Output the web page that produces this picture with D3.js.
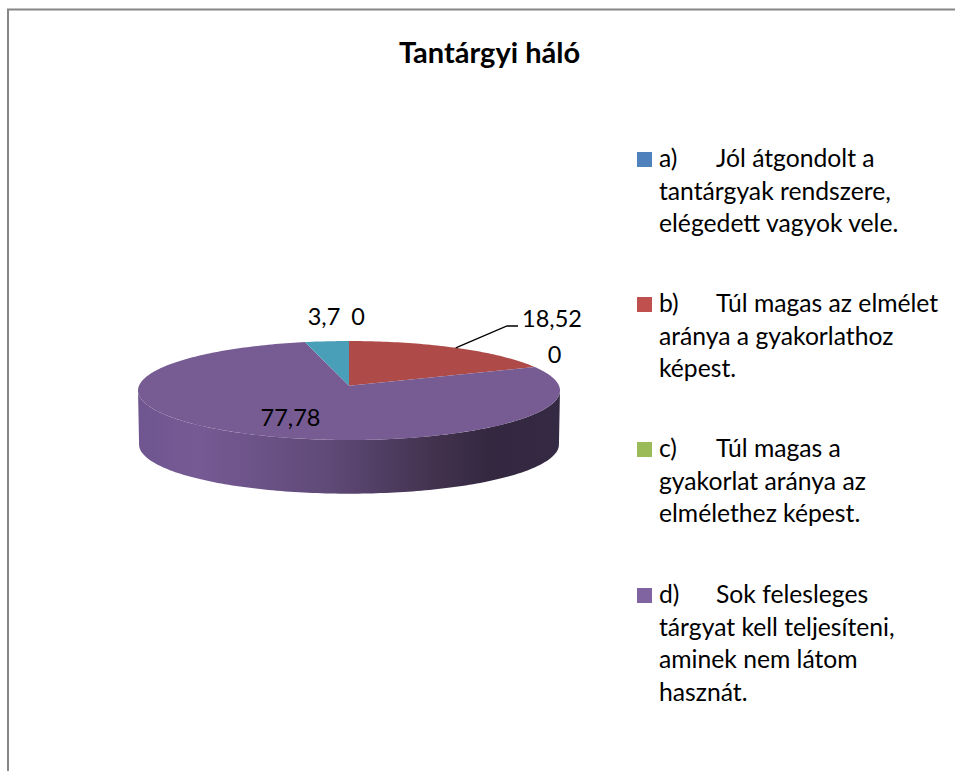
<!DOCTYPE html>
<html>
<head>
<meta charset="utf-8">
<script src="https://cdn.jsdelivr.net/npm/d3@7"></script>
<style>
html,body{margin:0;padding:0;background:#fff;overflow:hidden}
svg{display:block}
text{font-family:Lato,"Open Sans",sans-serif;fill:#000}
</style>
</head>
<body>
<svg width="955" height="771"></svg>
<script>
var title = "Tantárgyi háló";
var sliceNames = ["a", "b", "c", "d", "e"];
var values = [0, 18.52, 0, 77.78, 3.7];
var valueLabels = ["0", "18,52", "0", "77,78", "3,7"];
var sliceColors = ["#4a7ebb", "#ae4a47", "#8fae4f", "#775b93", "#4a9fb8"];
var legendColors = ["#4f81bd", "#c0504d", "#9bbb59", "#8064a2"];
var legendLines = [
  [["a)", "Jól átgondolt a"], "tantárgyak rendszere,", "elégedett vagyok vele."],
  [["b)", "Túl magas az elmélet"], "aránya a gyakorlathoz", "képest."],
  [["c)", "Túl magas a"], "gyakorlat aránya az", "elmélethez képest."],
  [["d)", "Sok felesleges"], "tárgyat kell teljesíteni,", "aminek nem látom", "hasznát."]
];

var svg = d3.select("svg");

// frame, only top and left edges are in the crop
svg.append("path")
  .attr("d", "M8,771V9.5H955")
  .attr("fill", "none")
  .attr("stroke", "#868686")
  .attr("stroke-width", 2);

svg.append("text")
  .attr("x", 489.5).attr("y", 63)
  .attr("text-anchor", "middle")
  .style("font-size", "29px").style("font-weight", "bold")
  .text(title);

// perspective view of the disc
var cx = 349, cy = 385.7, R = 210, tilt = 49.03, persp = 0.097, depth = 54;
function project(a, r, drop) {
  var s = 1 / (1 + persp * r * Math.cos(a));
  return [cx + R * r * Math.sin(a) * s, cy + drop - tilt * r * Math.cos(a) * s];
}
function rim(a0, a1, r, drop) {
  var n = Math.max(1, Math.ceil(Math.abs(a1 - a0) / 0.02));
  return d3.range(n + 1).map(function(i) {
    return project(a0 + (a1 - a0) * i / n, r, drop);
  });
}

var line = d3.line();
var pie = d3.pie().sort(null).value(function(d) { return d; });
var arcs = pie(values);

var defs = svg.append("defs");
var grad = defs.append("linearGradient").attr("id", "side")
  .attr("gradientUnits", "userSpaceOnUse")
  .attr("x1", 138).attr("x2", 559).attr("y1", 0).attr("y2", 0);
[[0, "#6f5690"], [0.14, "#765a94"], [0.45, "#5f4a78"], [0.7, "#43324f"], [0.84, "#332840"], [1, "#352a43"]]
  .forEach(function(s) {
    grad.append("stop").attr("offset", s[0]).attr("stop-color", s[1]);
  });

// side wall under the front half of the rim
var sideA0 = Math.PI - Math.asin(Math.sqrt(1 - persp * persp));
var sideA1 = 2 * Math.PI - sideA0;
var topEdge = rim(sideA0, sideA1, 1, 0);
var bottomEdge = rim(sideA1, sideA0, 0.995, depth);
svg.append("path")
  .attr("d", line(topEdge.concat(bottomEdge)) + "Z")
  .attr("fill", "url(#side)");

// top face
svg.selectAll("path.slice")
  .data(arcs.filter(function(d) { return d.value > 0; }))
  .enter().append("path")
  .attr("class", "slice")
  .attr("d", function(d) {
    return line([project(0, 0, 0)].concat(rim(d.startAngle, d.endAngle, 1, 0))) + "Z";
  })
  .attr("fill", function(d) { return sliceColors[d.index]; });

// leader line of the red slice
var red = arcs[1];
var lead = project((red.startAngle + red.endAngle) / 2, 1, 0);
svg.append("path")
  .attr("d", line([lead, [507, 326], [518, 326]]))
  .attr("fill", "none").attr("stroke", "#000").attr("stroke-width", 1.3);

// value labels
var labelX = [358, 552, 554.5, 290.5, 324];
var labelY = [325, 327, 363, 426, 325];
svg.selectAll("text.val")
  .data(valueLabels)
  .enter().append("text")
  .attr("class", "val")
  .attr("x", function(d, i) { return labelX[i]; })
  .attr("y", function(d, i) { return labelY[i]; })
  .attr("text-anchor", "middle")
  .style("font-size", "23.5px")
  .text(function(d) { return d; });

// legend
var legendBase = [167, 312, 457, 603];
var lineStep = 32.5;
var fontSize = "24.7px";
var item = svg.selectAll("g.item")
  .data(legendLines)
  .enter().append("g")
  .attr("class", "item");
item.append("rect")
  .attr("x", 637)
  .attr("y", function(d, i) { return legendBase[i] - 15; })
  .attr("width", 15).attr("height", 15)
  .attr("fill", function(d, i) { return legendColors[i]; });
item.each(function(lines, i) {
  var g = d3.select(this);
  lines.forEach(function(l, j) {
    var y = legendBase[i] + j * lineStep;
    if (Array.isArray(l)) {
      g.append("text").attr("x", 659).attr("y", y).style("font-size", fontSize).text(l[0]);
      g.append("text").attr("x", 716).attr("y", y).style("font-size", fontSize).text(l[1]);
    } else {
      g.append("text").attr("x", 659).attr("y", y).style("font-size", fontSize).text(l);
    }
  });
});
</script>
</body>
</html>
